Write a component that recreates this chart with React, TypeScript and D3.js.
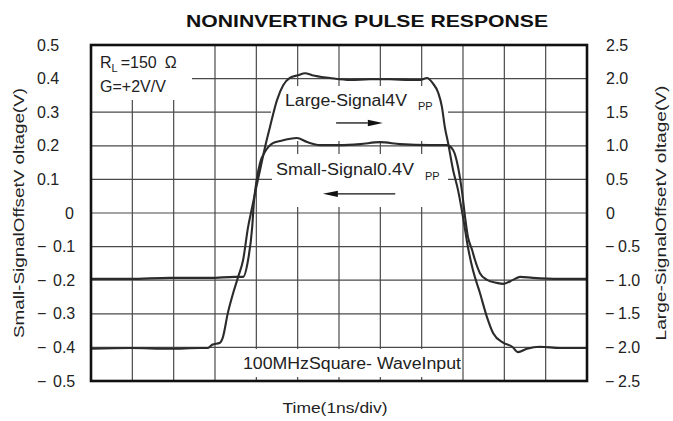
import React from "react";
import * as d3 from "d3";

// ---- data ----
const timeDivisions = d3.range(0, 13); // ns, 1 ns/div
const leftTicks = [0.5, 0.4, 0.3, 0.2, 0.1, 0, -0.1, -0.2, -0.3, -0.4, -0.5];
const leftTickLabels = ["0.5", "0.4", "0.3", "0.2", "0.1", "0", "−0.1", "−0.2", "−0.3", "−0.4", "−0.5"];
const rightTicks = [2.5, 2.0, 1.5, 1.0, 0.5, 0, -0.5, -1.0, -1.5, -2.0, -2.5];
const rightTickLabels = ["2.5", "2.0", "1.5", "1.0", "0.5", "0", "−0.5", "−1.0", "−1.5", "−2.0", "−2.5"];

// Small-signal trace (left axis, V) vs time (ns)
const smallT = [0, 0.94, 1.91, 2.88, 3.48, 3.68, 3.8, 3.9, 3.94, 4.02, 4.09, 4.21, 4.4, 4.57, 4.98, 5.23, 5.54, 6.02, 6.51, 6.99, 7.48, 8.2, 8.61, 8.76, 8.88, 8.98, 9.05, 9.12, 9.22, 9.29, 9.41, 9.58, 9.82, 9.97, 10.21, 10.38, 10.69, 11.35, 12];
const smallV = [-0.196, -0.196, -0.193, -0.193, -0.19, -0.19, -0.14, -0.042, 0.03, 0.107, 0.149, 0.182, 0.208, 0.214, 0.223, 0.211, 0.202, 0.202, 0.205, 0.211, 0.205, 0.202, 0.202, 0.1875, 0.137, 0.06, -0.012, -0.071, -0.11, -0.14, -0.179, -0.199, -0.208, -0.211, -0.199, -0.19, -0.193, -0.196, -0.196];

// Large-signal trace (right axis, V) vs time (ns)
const largeT = [0, 0.94, 1.91, 2.64, 2.83, 2.93, 3.12, 3.19, 3.31, 3.44, 3.56, 3.68, 3.8, 3.9, 3.97, 4.09, 4.21, 4.33, 4.5, 4.65, 4.81, 5.01, 5.18, 5.35, 5.78, 6.27, 6.75, 7.23, 7.72, 7.96, 8.13, 8.27, 8.4, 8.49, 8.56, 8.64, 8.76, 8.88, 9.0, 9.12, 9.24, 9.41, 9.58, 9.73, 9.97, 10.19, 10.33, 10.55, 10.86, 11.35, 12];
const largeV = [-2.02, -2.01, -2.02, -2.01, -2.01, -1.96, -1.93, -1.85, -1.49, -1.19, -0.95, -0.7, -0.21, 0.09, 0.3, 0.64, 0.98, 1.28, 1.68, 1.9, 2.01, 2.05, 2.08, 2.05, 2.01, 1.98, 1.99, 1.99, 1.98, 1.98, 2.01, 1.93, 1.79, 1.58, 1.28, 1.04, 0.64, 0.34, -0.06, -0.51, -0.85, -1.19, -1.55, -1.79, -1.93, -1.99, -2.07, -2.02, -1.99, -2.01, -2.01];

// Arrow annotations: [t start, t end, value]
const largeArrow = [5.93, 7.06, 1.34];
const smallArrow = [7.36, 5.61, 0.057];

const W = 673;
const H = 421;
const PL = 91, PR = 587, PT = 45, PB = 381;
const FONT = "'Liberation Sans', Arial, Helvetica, sans-serif";

export default function App() {
  const x = d3.scaleLinear().domain([0, 12]).range([PL, PR]);
  const yL = d3.scaleLinear().domain([-0.5, 0.5]).range([PB, PT]);
  const yR = d3.scaleLinear().domain([-2.5, 2.5]).range([PB, PT]);

  const smallLine = d3
    .line<number>()
    .x((_, i) => x(smallT[i]))
    .y((d) => yL(d))
    .curve(d3.curveMonotoneX);
  const largeLine = d3
    .line<number>()
    .x((_, i) => x(largeT[i]))
    .y((d) => yR(d))
    .curve(d3.curveMonotoneX);

  const gridColor = "#4a4a4a";
  const traceColor = "#2b2b2b";

  const arrow = (x1: number, x2: number, y: number, key: string) => {
    const dir = x2 > x1 ? 1 : -1;
    const headLen = 15;
    const hw = 3.2;
    return (
      <g key={key}>
        <line x1={x1} x2={x2 - dir * headLen} y1={y} y2={y} stroke="#111" strokeWidth={1.3} />
        <polygon
          points={`${x2},${y} ${x2 - dir * headLen},${y - hw} ${x2 - dir * headLen},${y + hw}`}
          fill="#111"
        />
      </g>
    );
  };

  return (
    <svg width={W} height={H} style={{ position: "absolute", left: 0, top: 0, background: "#fff" }} fontFamily={FONT}>
      <rect x={0} y={0} width={W} height={H} fill="#fff" />
      {/* title */}
      <text x={367} y={27} textAnchor="middle" fontSize={17} fontWeight="bold" fill="#111" textLength={362} lengthAdjust="spacingAndGlyphs">
        NONINVERTING PULSE RESPONSE
      </text>

      {/* grid */}
      <g stroke={gridColor} strokeWidth={1.2}>
        {timeDivisions.slice(1, -1).map((t) => (
          <line key={"v" + t} x1={x(t)} x2={x(t)} y1={PT} y2={PB} />
        ))}
        {leftTicks.slice(1, -1).map((v) => (
          <line key={"h" + v} x1={PL} x2={PR} y1={yL(v)} y2={yL(v)} />
        ))}
      </g>

      {/* label backgrounds */}
      <g fill="#fff">
        <rect x={PL} y={PT} width={101} height={55} />
        <rect x={271} y={86} width={177} height={55} />
        <rect x={272} y={154} width={176} height={53} />
        <rect x={238} y={349} width={223} height={28} />
      </g>

      {/* traces */}
      <path d={largeLine(largeV) || ""} fill="none" stroke={traceColor} strokeWidth={2.1} strokeLinejoin="round" />
      <path d={smallLine(smallV) || ""} fill="none" stroke={traceColor} strokeWidth={2.1} strokeLinejoin="round" />

      {/* arrows */}
      {arrow(x(largeArrow[0]), x(largeArrow[1]), yR(largeArrow[2]), "la")}
      {arrow(x(smallArrow[0]), x(smallArrow[1]), yL(smallArrow[2]), "sa")}

      {/* annotations */}
      <g fill="#222" fontSize={16}>
        <text x={100} y={68}>
          R<tspan fontSize={11} dy={4}>L</tspan>
          <tspan dy={-4} dx={3}>=150</tspan>
          <tspan dx={8}>Ω</tspan>
        </text>
        <text x={100} y={92}>G=+2V/V</text>
        <text x={285} y={106} textLength={122} lengthAdjust="spacingAndGlyphs">Large-Signal4V</text>
        <text x={418} y={110} fontSize={11}>PP</text>
        <text x={276} y={175} textLength={138} lengthAdjust="spacingAndGlyphs">Small-Signal0.4V</text>
        <text x={425} y={180} fontSize={11}>PP</text>
        <text x={243} y={369} textLength={218} lengthAdjust="spacingAndGlyphs">100MHzSquare- WaveInput</text>
      </g>

      {/* frame */}
      <rect x={PL} y={PT} width={PR - PL} height={PB - PT} fill="none" stroke="#111" strokeWidth={2.6} />

      {/* left tick labels */}
      <g fontSize={16} fill="#222">
        {leftTicks.map((v, i) => {
          const lab = leftTickLabels[i];
          const yy = yL(v) + 5.5;
          if (v < 0) {
            return (
              <text key={"l" + i} y={yy}>
                <tspan x={37}>{lab.slice(0, 1)}</tspan>
                <tspan x={53}>{lab.slice(1)}</tspan>
              </text>
            );
          }
          if (v === 0) {
            return (
              <text key={"l" + i} x={74} y={yy} textAnchor="end">
                {lab}
              </text>
            );
          }
          return (
            <text key={"l" + i} x={37} y={yy}>
              {lab}
            </text>
          );
        })}
      </g>

      {/* right tick labels */}
      <g fontSize={16} fill="#222">
        {rightTicks.map((v, i) => {
          const lab = rightTickLabels[i];
          const yy = yR(v) + 5.5;
          if (v < 0) {
            return (
              <text key={"r" + i} y={yy}>
                <tspan x={605}>{lab.slice(0, 1)}</tspan>
                <tspan x={618}>{lab.slice(1)}</tspan>
              </text>
            );
          }
          return (
            <text key={"r" + i} x={606} y={yy}>
              {lab}
            </text>
          );
        })}
      </g>

      {/* axis titles */}
      <text transform="translate(24,213) rotate(-90)" textAnchor="middle" fontSize={15} fill="#222" textLength={250} lengthAdjust="spacingAndGlyphs">
        Small-SignalOffsetV oltage(V)
      </text>
      <text transform="translate(666,213) rotate(-90)" textAnchor="middle" fontSize={15} fill="#222" textLength={255} lengthAdjust="spacingAndGlyphs">
        Large-SignalOffsetV oltage(V)
      </text>
      <text x={335} y={413} textAnchor="middle" fontSize={15} fill="#222" textLength={105} lengthAdjust="spacingAndGlyphs">
        Time(1ns/div)
      </text>
    </svg>
  );
}
